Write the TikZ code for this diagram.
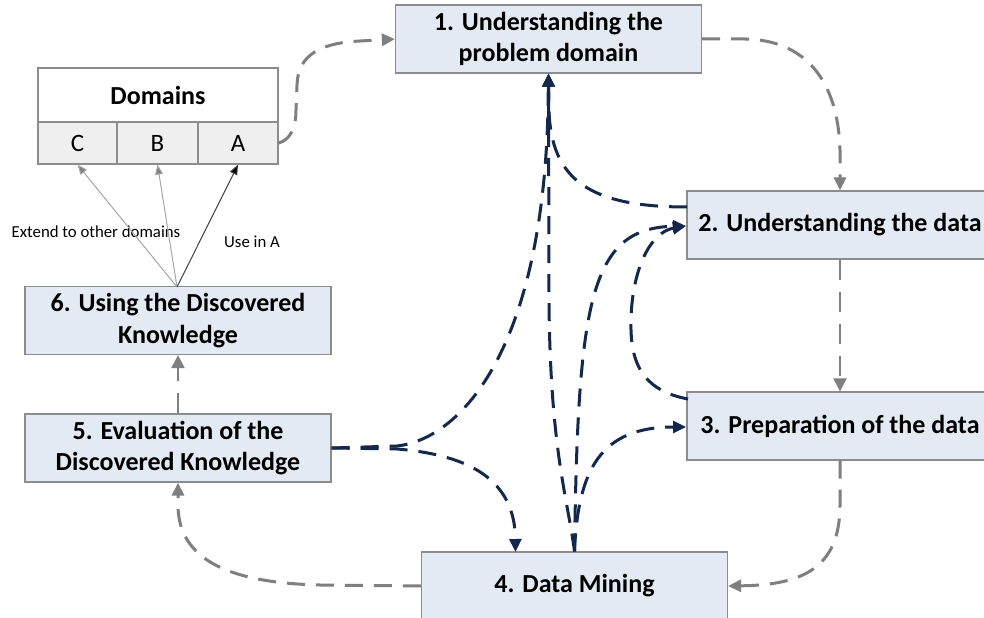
\documentclass[tikz,border=0pt]{standalone}
\usepackage{fontspec}
\setmainfont{Carlito}
\usetikzlibrary{arrows.meta}
\definecolor{boxfill}{HTML}{E4EAF4}
\definecolor{boxline}{HTML}{8C8C8C}
\definecolor{cellfill}{HTML}{EFEFEF}
\definecolor{flowgray}{HTML}{7F7F7F}
\definecolor{navy}{HTML}{14284B}
\definecolor{thingray}{HTML}{A6A6A6}
\definecolor{thindark}{HTML}{404040}
\begin{document}
\begin{tikzpicture}[x=1bp,y=-1bp,
  stepbox/.style={draw=boxline, line width=1.2bp, fill=boxfill,
    minimum width=306bp, minimum height=68bp, inner sep=0pt, align=center,
    font=\bfseries\fontsize{26bp}{31.7bp}\selectfont},
  hdrbox/.style={draw=boxline, line width=1.2bp, fill=white,
    minimum width=240bp, minimum height=54bp, inner sep=0pt,
    font=\bfseries\fontsize{26bp}{31bp}\selectfont},
  cellbox/.style={draw=boxline, line width=1.2bp, fill=cellfill,
    minimum height=42bp, inner sep=0pt,
    font=\fontsize{25bp}{30bp}\selectfont},
  smalltext/.style={inner sep=0pt, font=\fontsize{16.8bp}{20bp}\selectfont},
  gflow/.style={draw=flowgray, line width=3bp, dash pattern=on 18bp off 11bp,
    -{Triangle[length=13bp,width=12bp]}},
  gflowthin/.style={draw=flowgray, line width=2.2bp, dash pattern=on 20bp off 12bp,
    -{Triangle[length=13bp,width=13bp]}},
  nflow/.style={draw=navy, line width=3bp, dash pattern=on 18bp off 11bp,
    -{Triangle[length=13bp,width=12bp]}},
  thinarrow/.style={draw=thingray, line width=1bp,
    -{Triangle[length=10bp,width=8bp,fill=flowgray]}},
  darkarrow/.style={draw=thindark, line width=1bp,
    -{Triangle[length=10bp,width=8bp,fill=black]}}
]
\useasboundingbox (0,0) rectangle (984,618);
\fill[white] (0,0) rectangle (984,618);

% process steps
\node[stepbox] (b1) at (548.5,39) {1. Understanding the\\problem domain};
\node[stepbox] (b2) at (840,225) {2. Understanding the data};
\node[stepbox] (b3) at (840,426) {3. Preparation of the data};
\node[stepbox] (b4) at (574.5,586) {4. Data Mining};
\node[stepbox] (b5) at (178,448) {5. Evaluation of the\\Discovered Knowledge};
\node[stepbox] (b6) at (178,320.5) {6. Using the Discovered\\Knowledge};

% domains table
\node[hdrbox] (dom) at (158,95) {Domains};
\node[cellbox, minimum width=79bp] (dc) at (77.5,143) {C};
\node[cellbox, minimum width=81bp] (db) at (157.5,143) {B};
\node[cellbox, minimum width=80bp] (da) at (238,143) {A};

% knowledge reuse arrows
\node[smalltext] (lext) at (96,232) {Extend to other domains};
\node[smalltext] (luse) at (252,242) {Use in A};
\coordinate (fan) at (177,287);
\draw[thinarrow] (fan) -- (dc.south);
\draw[thinarrow] (fan) -- (db.south);
\draw[darkarrow] (fan) -- (da.south);

% main cycle
\draw[gflow] (da.east) .. controls (290,140) and (296,128) .. (296,110)
  -- (297,85) .. controls (298,55) and (320,43) .. (360,41) -- (b1.west);
\draw[gflow] (b1.east) -- (745,39) .. controls (805,40) and (838,80) .. (840,150) -- (b2.north);
\draw[gflowthin] (b2.south) -- (b3.north);
\draw[gflow] (b3.south) -- (840,505) .. controls (840,570) and (800,585) .. (b4.east);
\draw[gflow] (b4.west) -- (320,585) .. controls (230,583) and (178,560) .. (178,505) -- (b5.south);
\draw[gflowthin] (b5.north) -- (b6.south);

% feedback loops
\coordinate (b2in) at (686,226);
\coordinate (b2out) at (687,207);
\coordinate (b3out) at (688,399);
\coordinate (b3in) at (686,427);
\draw[nflow] (b2out) .. controls (590,207) and (551,180) .. (549,110) -- (b1.south);
\draw[nflow] (b4.north) .. controls (568,500) and (550,450) .. (549,300) -- (b1.south);
\draw[nflow] (b4.north) .. controls (578,300) and (590,228) .. (b2in);
\draw[nflow] (b3out) .. controls (640,390) and (630,360) .. (631,320)
  .. controls (632,270) and (650,232) .. (b2in);
\draw[nflow] (b4.north) .. controls (578,470) and (600,427) .. (b3in);
\draw[nflow] (b5.east) -- (397,446) .. controls (455,440) and (542,360) .. (548,110) -- (b1.south);
\draw[nflow] (b5.east) -- (397,449) .. controls (470,455) and (515,480) .. (515.5,552);
\end{tikzpicture}
\end{document}
